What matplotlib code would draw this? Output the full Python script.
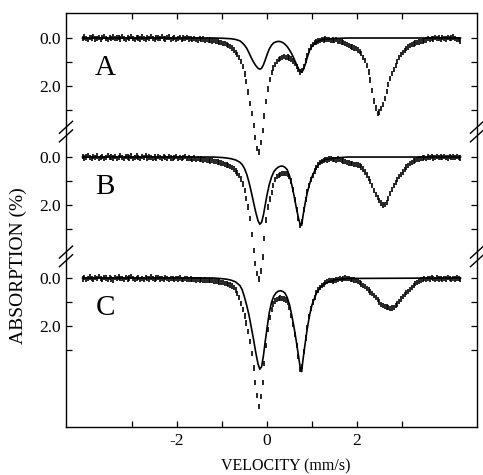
import numpy as np
import matplotlib
matplotlib.use("Agg")
import matplotlib.pyplot as plt
import matplotlib.transforms as mtrans

plt.rcParams['font.family'] = ['Liberation Serif', 'DejaVu Serif']

# channel velocities (mm/s)
velocity = np.round(np.linspace(-4.10, 4.30, 211), 2)

absorb_A = [
    0.03, -0.04, 0.01, 0.06, -0.02, 0.00, -0.06, 0.04, 0.02, -0.03,
    0.05, -0.01, -0.05, 0.02, 0.07, -0.03, 0.01, -0.04, 0.03, 0.00,
    -0.02, 0.04, -0.06, 0.01, 0.05, -0.01, 0.03, -0.05, 0.02, 0.06,
    -0.03, 0.00, 0.04, -0.04, 0.02, 0.05, -0.02, 0.01, -0.06, 0.03,
    0.06, -0.02, 0.00, 0.03, -0.05, 0.02, 0.04, -0.01, -0.04, 0.05,
    0.01, -0.03, 0.05, 0.02, -0.02, 0.06, 0.00, 0.03, -0.03, 0.04,
    0.02, 0.06, 0.01, 0.05, 0.08, 0.03, 0.07, 0.04, 0.09, 0.06,
    0.10, 0.08, 0.13, 0.11, 0.16, 0.15, 0.19, 0.18, 0.22, 0.24,
    0.28, 0.31, 0.36, 0.42, 0.50, 0.60, 0.70, 0.82, 0.98, 1.18,
    1.50, 1.82, 2.25, 2.72, 3.15, 3.65, 4.15, 4.60, 4.75, 4.35,
    3.85, 3.25, 2.65, 2.12, 1.72, 1.45, 1.25, 1.10, 0.98, 0.90,
    0.85, 0.82, 0.78, 0.80, 0.79, 0.83, 0.88, 0.96, 1.06, 1.18,
    1.32, 1.42, 1.36, 1.18, 0.95, 0.72, 0.52, 0.38, 0.28, 0.20,
    0.17, 0.12, 0.10, 0.06, 0.08, 0.04, 0.07, 0.05, 0.09, 0.08,
    0.10, 0.07, 0.12, 0.14, 0.17, 0.20, 0.22, 0.28, 0.31, 0.35,
    0.38, 0.42, 0.45, 0.50, 0.56, 0.66, 0.80, 0.95, 1.15, 1.42,
    1.75, 2.20, 2.62, 2.92, 3.15, 3.08, 2.95, 2.78, 2.52, 2.22,
    1.95, 1.70, 1.48, 1.30, 1.14, 0.98, 0.82, 0.70, 0.60, 0.52,
    0.44, 0.38, 0.32, 0.27, 0.25, 0.21, 0.19, 0.17, 0.14, 0.12,
    0.10, 0.08, 0.03, 0.06, 0.01, 0.04, -0.02, 0.03, 0.00, 0.05,
    -0.03, 0.02, 0.04, -0.01, 0.03, 0.00, -0.04, 0.02, 0.05, 0.06,
    0.12,
]

absorb_B = [
    -0.02, 0.04, 0.00, -0.05, 0.03, 0.06, -0.01, 0.02, -0.04, 0.05,
    0.01, -0.03, 0.05, 0.02, -0.06, 0.03, 0.00, 0.04, -0.02, 0.06,
    0.03, -0.05, 0.01, 0.06, -0.02, 0.00, 0.04, -0.04, 0.05, 0.01,
    -0.04, 0.02, 0.06, -0.01, 0.03, -0.05, 0.04, 0.00, 0.02, 0.07,
    0.00, 0.05, -0.03, 0.03, 0.06, -0.02, 0.01, 0.05, -0.01, 0.04,
    0.06, 0.02, -0.02, 0.05, 0.01, 0.07, 0.03, -0.01, 0.06, 0.04,
    0.05, 0.08, 0.04, 0.09, 0.07, 0.11, 0.08, 0.12, 0.10, 0.14,
    0.13, 0.16, 0.15, 0.19, 0.18, 0.21, 0.22, 0.25, 0.27, 0.30,
    0.33, 0.36, 0.40, 0.44, 0.50, 0.58, 0.67, 0.78, 0.92, 1.12,
    1.40, 1.72, 2.08, 2.55, 3.22, 3.90, 4.45, 4.85, 5.08, 4.75,
    4.17, 3.40, 2.62, 2.08, 1.75, 1.47, 1.18, 0.95, 0.82, 0.76,
    0.72, 0.70, 0.69, 0.70, 0.72, 0.82, 1.00, 1.35, 1.78, 2.20,
    2.55, 2.85, 2.70, 2.20, 1.78, 1.45, 1.18, 0.95, 0.76, 0.58,
    0.43, 0.33, 0.24, 0.18, 0.13, 0.10, 0.12, 0.08, 0.07, 0.10,
    0.09, 0.12, 0.08, 0.11, 0.14, 0.16, 0.19, 0.22, 0.25, 0.27,
    0.28, 0.30, 0.31, 0.33, 0.35, 0.42, 0.50, 0.62, 0.75, 0.88,
    1.02, 1.20, 1.38, 1.55, 1.70, 1.82, 1.92, 2.00, 1.98, 1.90,
    1.72, 1.52, 1.35, 1.20, 1.06, 0.93, 0.82, 0.72, 0.62, 0.51,
    0.42, 0.35, 0.28, 0.22, 0.17, 0.13, 0.10, 0.08, 0.06, 0.04,
    0.02, 0.05, 0.00, 0.03, -0.02, 0.04, 0.01, -0.03, 0.02, 0.00,
    0.03, -0.02, 0.01, 0.04, -0.03, 0.02, 0.00, 0.03, -0.01, 0.02,
    0.04,
]

absorb_C = [
    0.04, -0.02, 0.06, 0.01, -0.04, 0.03, 0.07, -0.01, 0.02, -0.05,
    0.03, 0.06, -0.03, 0.00, 0.05, -0.02, 0.04, 0.08, -0.01, 0.02,
    -0.04, 0.03, 0.01, 0.06, -0.02, 0.04, 0.00, -0.05, 0.03, 0.05,
    0.02, -0.03, 0.05, 0.01, 0.06, -0.01, 0.03, 0.04, -0.04, 0.02,
    0.05, 0.00, -0.02, 0.04, 0.02, 0.07, -0.01, 0.03, 0.05, 0.01,
    0.03, 0.06, 0.01, 0.04, 0.00, 0.05, 0.07, 0.02, 0.04, 0.06,
    0.04, 0.07, 0.05, 0.08, 0.06, 0.09, 0.07, 0.10, 0.09, 0.11,
    0.10, 0.12, 0.11, 0.14, 0.13, 0.15, 0.17, 0.18, 0.20, 0.22,
    0.24, 0.26, 0.29, 0.33, 0.40, 0.50, 0.64, 0.82, 1.05, 1.30,
    1.58, 1.88, 2.22, 2.65, 3.15, 3.75, 4.35, 4.90, 5.35, 4.95,
    4.35, 3.55, 2.80, 2.15, 1.65, 1.30, 1.08, 0.96, 0.89, 0.86,
    0.84, 0.86, 0.88, 0.92, 1.02, 1.22, 1.55, 1.95, 2.35, 2.80,
    3.28, 3.80, 3.70, 3.05, 2.50, 2.05, 1.62, 1.28, 1.00, 0.80,
    0.62, 0.50, 0.40, 0.32, 0.26, 0.20, 0.16, 0.12, 0.10, 0.13,
    0.11, 0.08, 0.06, 0.03, 0.05, 0.01, 0.00, 0.03, 0.02, 0.05,
    0.07, 0.09, 0.12, 0.15, 0.20, 0.25, 0.30, 0.36, 0.43, 0.50,
    0.58, 0.66, 0.74, 0.82, 0.90, 1.00, 1.10, 1.16, 1.18, 1.21,
    1.24, 1.26, 1.25, 1.22, 1.16, 1.08, 0.98, 0.88, 0.78, 0.70,
    0.62, 0.55, 0.47, 0.40, 0.32, 0.24, 0.18, 0.13, 0.09, 0.06,
    0.03, 0.05, 0.01, 0.04, -0.01, 0.03, 0.05, 0.00, 0.04, 0.02,
    0.05, 0.01, 0.04, -0.02, 0.03, 0.06, 0.02, 0.04, 0.00, 0.03,
    0.05,
]

fit_velocity = [-4.10, -1.20, -1.00, -0.90, -0.80, -0.70, -0.60, -0.55, -0.50, -0.45,
                -0.40, -0.35, -0.30, -0.25, -0.20, -0.16, -0.12, -0.08, -0.04, 0.00,
                0.05, 0.10, 0.15, 0.20, 0.25, 0.30, 0.35, 0.40, 0.45, 0.50,
                0.55, 0.60, 0.65, 0.70, 0.74, 0.77, 0.80, 0.85, 0.90, 0.95,
                1.00, 1.10, 1.20, 1.30, 1.50, 1.80, 4.30]

fit_A = [0.00, 0.00, 0.01, 0.02, 0.03, 0.06, 0.12, 0.20, 0.30, 0.43,
         0.62, 0.82, 1.00, 1.15, 1.26, 1.30, 1.26, 1.12, 0.92, 0.70,
         0.46, 0.30, 0.20, 0.16, 0.14, 0.15, 0.19, 0.26, 0.36, 0.50,
         0.66, 0.86, 1.08, 1.28, 1.40, 1.42, 1.35, 1.10, 0.78, 0.50,
         0.34, 0.16, 0.08, 0.05, 0.02, 0.00, 0.00]

fit_B = [0.00, 0.00, 0.02, 0.04, 0.07, 0.12, 0.22, 0.32, 0.48, 0.72,
         1.05, 1.45, 1.88, 2.30, 2.65, 2.80, 2.72, 2.42, 2.00, 1.58,
         1.15, 0.84, 0.62, 0.50, 0.42, 0.38, 0.38, 0.43, 0.53, 0.78,
         1.15, 1.60, 2.10, 2.55, 2.82, 2.85, 2.45, 1.90, 1.45, 1.10,
         0.82, 0.42, 0.20, 0.10, 0.04, 0.00, 0.00]

fit_C = [0.00, 0.00, 0.03, 0.05, 0.09, 0.16, 0.32, 0.50, 0.80, 1.15,
         1.55, 2.05, 2.55, 3.10, 3.58, 3.80, 3.70, 3.25, 2.65, 2.10,
         1.45, 1.02, 0.76, 0.62, 0.55, 0.53, 0.56, 0.63, 0.82, 1.11,
         1.55, 2.05, 2.62, 3.25, 3.75, 3.90, 3.40, 2.70, 2.05, 1.52,
         1.12, 0.62, 0.36, 0.22, 0.08, 0.02, 0.00]

panel_labels = ["A", "B", "C"]
panel_offsets = [0.0, 4.96, 10.0]
x_ticks = [-3, -2, -1, 0, 1, 2, 3]
x_tick_labels = ["", "-2", "", "0", "", "2", ""]
y_tick_steps = [0, 1, 2, 3]
y_tick_labels = ["0.0", "", "2.0", ""]

W, H = 483, 475
fig = plt.figure(figsize=(W / 100, H / 100), dpi=100)
ax = fig.add_axes([66 / W, 1 - 427 / H, (477 - 66) / W, (427 - 13) / H])

data_sets = [absorb_A, absorb_B, absorb_C]
fit_sets = [fit_A, fit_B, fit_C]
v = np.asarray(velocity)
for off, dat, fit, lab in zip(panel_offsets, data_sets, fit_sets, panel_labels):
    y = off + np.asarray(dat)
    ax.errorbar(v, y, yerr=0.11, fmt='none', ecolor='black', elinewidth=1.2, capsize=0)
    ax.plot(fit_velocity, off + np.asarray(fit), color='black', lw=1.2)
    ax.text(-3.6, off + 1.25, lab, fontsize=21, ha='center', va='center')

ax.set_xlim(-4.467, 4.667)
ax.set_ylim(16.21, -1.042)

yt, ytl = [], []
for off in panel_offsets:
    for s, l in zip(y_tick_steps, y_tick_labels):
        yt.append(off + s)
        ytl.append(l)
ax.set_yticks(yt)
ax.set_yticklabels(ytl)
ax.set_xticks(x_ticks)
ax.set_xticklabels(x_tick_labels)
ax.tick_params(axis='both', direction='in', length=4, width=0.9, labelsize=12.5,
               top=True, right=True, pad=4)
for sp in ax.spines.values():
    sp.set_linewidth(1.0)

# break marks on left and right spines
bt = mtrans.blended_transform_factory(ax.transAxes, ax.transData)
for yb in [3.9, 9.1]:
    for xs in [0.0, 1.0]:
        for dy in [-0.18, 0.18]:
            ax.plot([xs - 0.016, xs + 0.016], [yb + dy + 0.25, yb + dy - 0.25],
                    transform=bt, color='black', lw=1.0, clip_on=False)

fig.text(18 / W, 1 - 266 / H, "ABSORPTION (%)", rotation=90, ha='center', va='center', fontsize=14)
fig.text(286 / W, 1 - 466 / H, "VELOCITY (mm/s)", ha='center', va='center', fontsize=11.5)

fig.savefig("out.png", dpi=100)
